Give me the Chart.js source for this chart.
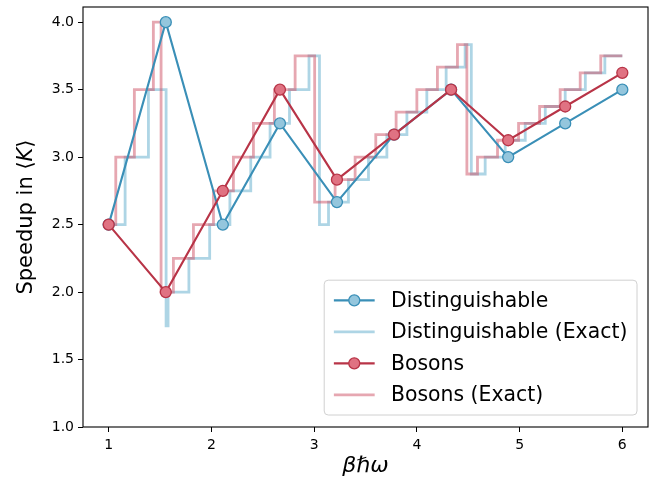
<!DOCTYPE html>
<html>
<head>
<meta charset="utf-8">
<script src="https://cdn.jsdelivr.net/npm/chart.js@4.4.0/dist/chart.umd.min.js"></script>
<style>
  html, body { margin: 0; padding: 0; background: #fff; }
</style>
</head>
<body>
<canvas id="chart" width="649" height="483"></canvas>
<script>
const FONT = "'DejaVu Sans', sans-serif";

// sampled points
const xPoints = [1, 1.556, 2.111, 2.667, 3.222, 3.778, 4.333, 4.889, 5.444, 6];
const distValues = [2.5, 4.0, 2.5, 3.25, 2.667, 3.167, 3.5, 3.0, 3.25, 3.5];
const bosonValues = [2.5, 2.0, 2.75, 3.5, 2.833, 3.167, 3.5, 3.125, 3.375, 3.625];

// exact curves: x where each step starts, and the value from there on
const distExactX = [1.0, 1.16, 1.387, 1.559, 1.578, 1.781, 1.983, 2.18, 2.383, 2.571, 2.76, 2.95,
    3.052, 3.14, 3.334, 3.529, 3.708, 3.903, 4.097, 4.285, 4.47, 4.53, 4.665, 4.86, 5.055,
    5.25, 5.444, 5.64, 5.83, 6.0];
const distExactY = [2.5, 3.0, 3.5, 1.75, 2.0, 2.25, 2.5, 2.75, 3.0, 3.25, 3.5, 3.75,
    2.5, 2.667, 2.833, 3.0, 3.167, 3.333, 3.5, 3.667, 3.833, 2.875, 3.0, 3.125, 3.25,
    3.375, 3.5, 3.625, 3.75, 3.75];

const bosonExactX = [1.0, 1.069, 1.25, 1.435, 1.51, 1.63, 1.825, 2.02, 2.214, 2.409, 2.613, 2.815,
    3.005, 3.204, 3.399, 3.6, 3.798, 4.0, 4.2, 4.395, 4.487, 4.59, 4.785, 4.99, 5.195,
    5.395, 5.59, 5.79, 6.0];
const bosonExactY = [2.5, 3.0, 3.5, 4.0, 2.0, 2.25, 2.5, 2.75, 3.0, 3.25, 3.5, 3.75,
    2.667, 2.833, 3.0, 3.167, 3.333, 3.5, 3.667, 3.833, 2.875, 3.0, 3.125, 3.25, 3.375,
    3.5, 3.625, 3.75, 3.75];

const xTicks = [1, 2, 3, 4, 5, 6];
const yTicks = [1.0, 1.5, 2.0, 2.5, 3.0, 3.5, 4.0];

const toPoints = (xs, ys) => xs.map((x, i) => ({ x: x, y: ys[i] }));

const BLUE = '#3a8fb7';
const BLUE_FILL = '#94c6dd';
const BLUE_EXACT = 'rgba(120, 185, 212, 0.6)';
const RED = '#b83447';
const RED_FILL = '#e07282';
const RED_EXACT = 'rgba(205, 80, 100, 0.5)';

const PLOT_RIGHT = 648;

// chart.js keeps room for the last tick label; the axes here end further right
const areaPlugin = {
    id: 'fixArea',
    afterLayout(chart) {
        const xs = chart.scales.x;
        xs.right = PLOT_RIGHT;
        xs.width = xs.right - xs.left;
        xs.configure();
        chart.chartArea.right = PLOT_RIGHT;
        chart.chartArea.width = PLOT_RIGHT - chart.chartArea.left;
    }
};

const legendPlugin = {
    id: 'mplLegend',
    afterDraw(chart) {
        const ctx = chart.ctx;
        const area = chart.chartArea;

        // spines
        ctx.save();
        ctx.strokeStyle = '#000';
        ctx.lineWidth = 1.1;
        ctx.strokeRect(area.left, area.top, area.right - area.left, area.bottom - area.top);
        ctx.restore();

        // axis titles
        ctx.save();
        ctx.fillStyle = '#000';
        ctx.textBaseline = 'middle';
        ctx.font = 'italic 22px ' + FONT;
        ctx.textAlign = 'center';
        ctx.fillText('βℏω', (area.left + area.right) / 2, 466);

        ctx.translate(27, (area.top + area.bottom) / 2);
        ctx.rotate(-Math.PI / 2);
        const parts = [['Speedup in ⟨', ''], ['K', 'italic '], ['⟩', '']];
        let total = 0;
        parts.forEach(p => { ctx.font = p[1] + '21px ' + FONT; total += ctx.measureText(p[0]).width; });
        let x = -total / 2;
        ctx.textAlign = 'left';
        parts.forEach(p => {
            ctx.font = p[1] + '21px ' + FONT;
            ctx.fillText(p[0], x, 0);
            x += ctx.measureText(p[0]).width;
        });
        ctx.restore();

        // legend
        const fs = 20.4;
        const pad = 0.4 * fs, spacing = 7.5, handle = 2.0 * fs, gap = 0.8 * fs, rowH = 24;
        const entries = [0, 1, 2, 3].map(i => chart.data.datasets[i]);
        ctx.save();
        ctx.font = fs + 'px ' + FONT;
        const textW = Math.max(...entries.map(d => ctx.measureText(d.label).width));
        const w = pad * 2 + handle + gap + textW + 3;
        const h = pad * 2 + entries.length * rowH + (entries.length - 1) * spacing;
        const right = area.right - 11;
        const bottom = area.bottom - 12;
        const left = right - w, top = bottom - h;

        ctx.beginPath();
        ctx.roundRect(left, top, w, h, 4);
        ctx.fillStyle = 'rgba(255,255,255,0.8)';
        ctx.fill();
        ctx.strokeStyle = '#d0d0d0';
        ctx.lineWidth = 1;
        ctx.stroke();

        entries.forEach((d, i) => {
            const cy = top + pad + rowH / 2 + i * (rowH + spacing);
            const hx = left + pad + 1.5;
            ctx.beginPath();
            ctx.moveTo(hx, cy);
            ctx.lineTo(hx + handle, cy);
            ctx.strokeStyle = d.borderColor;
            ctx.lineWidth = d.borderWidth;
            ctx.stroke();
            if (d.pointRadius > 0) {
                ctx.beginPath();
                ctx.arc(hx + handle / 2, cy, d.pointRadius, 0, Math.PI * 2);
                ctx.fillStyle = d.pointBackgroundColor;
                ctx.fill();
                ctx.lineWidth = d.pointBorderWidth;
                ctx.strokeStyle = d.pointBorderColor;
                ctx.stroke();
            }
            ctx.fillStyle = '#000';
            ctx.textBaseline = 'middle';
            ctx.textAlign = 'left';
            ctx.fillText(d.label, hx + handle + gap, cy + 1);
        });
        ctx.restore();
    }
};

function fixScale(s, key, size) {
    s[key] = size;
    s.paddingLeft = 0;
    s.paddingRight = 0;
    s.paddingTop = 0;
    s.paddingBottom = 0;
}

new Chart(document.getElementById('chart').getContext('2d'), {
    type: 'line',
    data: {
        datasets: [{
            label: 'Distinguishable',
            data: toPoints(xPoints, distValues),
            borderColor: BLUE,
            borderWidth: 2.1,
            pointRadius: 5.5,
            pointBackgroundColor: BLUE_FILL,
            pointBorderColor: BLUE,
            pointBorderWidth: 1.3,
            order: 1
        }, {
            label: 'Distinguishable (Exact)',
            data: toPoints(distExactX, distExactY),
            borderColor: BLUE_EXACT,
            borderWidth: 2.8,
            pointRadius: 0,
            stepped: 'before',
            order: 3
        }, {
            label: 'Bosons',
            data: toPoints(xPoints, bosonValues),
            borderColor: RED,
            borderWidth: 2.1,
            pointRadius: 5.5,
            pointBackgroundColor: RED_FILL,
            pointBorderColor: RED,
            pointBorderWidth: 1.3,
            order: 0
        }, {
            label: 'Bosons (Exact)',
            data: toPoints(bosonExactX, bosonExactY),
            borderColor: RED_EXACT,
            borderWidth: 2.8,
            pointRadius: 0,
            stepped: 'before',
            order: 2
        }]
    },
    options: {
        responsive: false,
        animation: false,
        layout: { padding: { top: 7, right: 1, left: 0, bottom: 0 } },
        plugins: {
            legend: { display: false },
            tooltip: { enabled: false }
        },
        scales: {
            x: {
                type: 'linear',
                min: 0.75,
                max: 6.25,
                afterBuildTicks: s => { s.ticks = xTicks.map(v => ({ value: v })); },
                afterFit: s => fixScale(s, 'height', 56),
                ticks: {
                    color: '#000',
                    padding: 5,
                    font: { family: FONT, size: 14 },
                    callback: v => String(v)
                },
                grid: { drawOnChartArea: false, tickLength: 5, tickColor: '#000', tickWidth: 1 },
                border: { display: false }
            },
            y: {
                type: 'linear',
                min: 1.0,
                max: 4.1125,
                afterBuildTicks: s => { s.ticks = yTicks.map(v => ({ value: v })); },
                afterFit: s => fixScale(s, 'width', 83),
                ticks: {
                    color: '#000',
                    padding: 4,
                    font: { family: FONT, size: 14 },
                    callback: v => v.toFixed(1)
                },
                grid: { drawOnChartArea: false, tickLength: 5, tickColor: '#000', tickWidth: 1 },
                border: { display: false }
            }
        }
    },
    plugins: [areaPlugin, legendPlugin]
});
</script>
</body>
</html>
